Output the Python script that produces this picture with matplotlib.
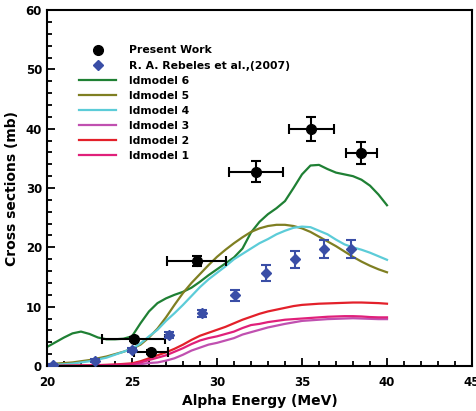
import numpy as np
import matplotlib
matplotlib.use("Agg")
import matplotlib.pyplot as plt
from matplotlib.ticker import MultipleLocator

# present work (black points)
pw_e = [25.1, 26.1, 28.8, 32.3, 35.55, 38.5]
pw_ex = [1.85, 1.0, 1.73, 1.58, 1.32, 0.93]
pw_cs = [4.55, 2.4, 17.7, 32.75, 39.9, 35.85]
pw_err = [0.4, 0.3, 0.9, 1.8, 2.0, 1.85]

# R. A. Rebeles et al. (2007)
rb_e = [20.35, 22.8, 25.0, 27.15, 29.1, 31.05, 32.9, 34.6, 36.3, 37.9]
rb_cs = [0.2, 0.9, 2.7, 5.2, 8.9, 11.9, 15.7, 18.0, 19.7, 19.7]
rb_err = [0.2, 0.3, 0.4, 0.5, 0.6, 0.9, 1.3, 1.4, 1.5, 1.5]

# TALYS level density models, 20..40 MeV in 0.5 MeV steps
energy = np.arange(20.0, 40.01, 0.5)
ld6 = [3.2, 4.0, 4.8, 5.5, 5.8, 5.4, 4.8, 4.5, 4.5, 4.6, 5.0, 7.2, 9.2, 10.6,
       11.4, 12.0, 12.5, 13.2, 14.2, 15.3, 16.3, 17.3, 18.3, 19.8, 22.5, 24.3,
       25.6, 26.6, 27.8, 30.0, 32.3, 33.8, 33.9, 33.2, 32.6, 32.3, 32.0, 31.4,
       30.4, 28.9, 27.1]
ld5 = [0.3, 0.4, 0.5, 0.6, 0.8, 1.0, 1.3, 1.6, 2.0, 2.4, 2.9, 3.6, 4.8, 6.3,
       8.2, 10.3, 12.3, 14.0, 15.5, 17.0, 18.4, 19.6, 20.7, 21.7, 22.6, 23.2,
       23.6, 23.8, 23.8, 23.6, 23.2, 22.6, 21.8, 21.0, 20.2, 19.3, 18.4, 17.6,
       16.9, 16.3, 15.8]
ld4 = [0.1, 0.2, 0.3, 0.4, 0.6, 0.8, 1.1, 1.4, 1.9, 2.4, 2.9, 3.8, 5.0, 6.1,
       7.6, 8.9, 10.3, 11.8, 13.3, 14.6, 15.7, 16.8, 18.0, 18.9, 19.8, 20.7,
       21.4, 22.2, 22.8, 23.3, 23.5, 23.4, 22.8, 22.2, 21.3, 20.5, 20.0, 19.6,
       19.1, 18.5, 17.9]
ld3 = [0.0, 0.0, 0.0, 0.02, 0.03, 0.05, 0.06, 0.08, 0.1, 0.12, 0.15, 0.3, 0.5,
       0.6, 0.9, 1.3, 1.9, 2.6, 3.1, 3.6, 3.9, 4.3, 4.7, 5.3, 5.7, 6.1, 6.5,
       6.8, 7.1, 7.35, 7.6, 7.7, 7.8, 7.9, 7.95, 8.0, 8.05, 8.0, 7.95, 7.9, 7.9]
ld2 = [0.0, 0.0, 0.05, 0.05, 0.1, 0.1, 0.15, 0.2, 0.25, 0.35, 0.45, 0.8, 1.3,
       1.8, 2.3, 2.9, 3.6, 4.4, 5.1, 5.6, 6.1, 6.6, 7.2, 7.8, 8.3, 8.8, 9.2,
       9.5, 9.8, 10.1, 10.3, 10.4, 10.5, 10.55, 10.6, 10.65, 10.7, 10.7, 10.65,
       10.6, 10.5]
ld1 = [0.0, 0.0, 0.03, 0.05, 0.07, 0.1, 0.12, 0.15, 0.2, 0.25, 0.3, 0.6, 1.0,
       1.4, 1.8, 2.4, 3.0, 3.7, 4.3, 4.7, 5.0, 5.4, 5.8, 6.4, 6.9, 7.1, 7.4,
       7.6, 7.8, 7.9, 8.0, 8.1, 8.2, 8.3, 8.35, 8.4, 8.4, 8.35, 8.25, 8.2, 8.2]

models = [("ldmodel 6", ld6, "#1f8034"), ("ldmodel 5", ld5, "#7f7f22"),
          ("ldmodel 4", ld4, "#5cccd8"), ("ldmodel 3", ld3, "#c050b0"),
          ("ldmodel 2", ld2, "#e3202a"), ("ldmodel 1", ld1, "#e0207a")]

plt.rcParams['font.family'] = 'DejaVu Sans'
plt.rcParams['font.weight'] = 'bold'

fig = plt.figure(figsize=(4.77, 4.11), dpi=100)
ax = fig.add_axes([0.0985, 0.1095, 0.891, 0.866])

blue = "#3a4ea6"
ax.errorbar(pw_e, pw_cs, xerr=pw_ex, yerr=pw_err, fmt='none', ecolor='black',
            elinewidth=1.5, capsize=3.5, capthick=1.5, zorder=4)
ax.errorbar(rb_e, rb_cs, yerr=rb_err, fmt='none', ecolor=blue,
            elinewidth=1.5, capsize=3.5, capthick=1.5, zorder=4)
ax.plot(pw_e, pw_cs, 'o', color='black', markersize=7, label='Present Work', zorder=5)
ax.plot(rb_e, rb_cs, 'D', color=blue, markersize=5.5,
        label='R. A. Rebeles et al.,(2007)', zorder=5)

for name, vals, col in models:
    ax.plot(energy, vals, color=col, lw=1.6, label=name)

ax.set_xlim(20, 45)
ax.set_ylim(0, 60)
ax.xaxis.set_major_locator(MultipleLocator(5))
ax.xaxis.set_minor_locator(MultipleLocator(1))
ax.yaxis.set_major_locator(MultipleLocator(10))
ax.yaxis.set_minor_locator(MultipleLocator(2))
ax.tick_params(which='both', direction='in', width=1.3, labelsize=8.5)
ax.tick_params(which='major', length=6)
ax.tick_params(which='minor', length=3.5)
ax.tick_params(axis='x', pad=7)
for s in ax.spines.values():
    s.set_linewidth(1.5)

ax.set_xlabel('Alpha Energy (MeV)', fontsize=10, fontweight='bold', labelpad=4)
ax.set_ylabel('Cross sections (mb)', fontsize=10, fontweight='bold', labelpad=5)

ax.legend(loc='upper left', bbox_to_anchor=(0.053, 0.928), frameon=False,
          labelspacing=0.47, handlelength=3.4, handletextpad=1.2,
          numpoints=1, prop={'weight': 'bold', 'size': 7.8})

fig.savefig("out.png", dpi=100)
